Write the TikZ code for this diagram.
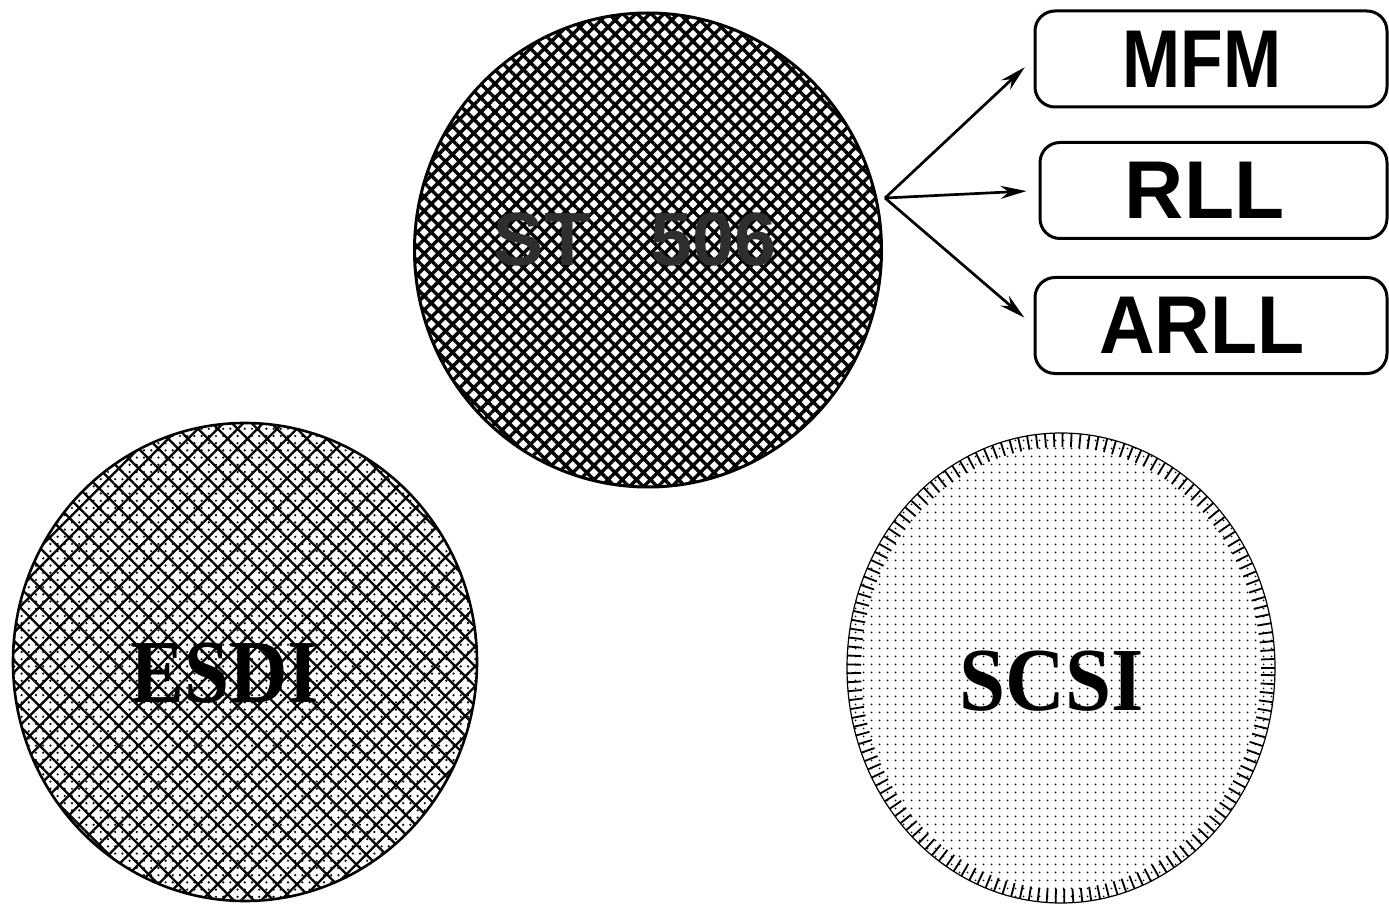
\documentclass[tikz,border=0pt]{standalone}
\usepackage{fontspec}
\usepackage{graphicx}
\setmainfont{Liberation Serif}
\newfontfamily\hv{Liberation Sans}
\usetikzlibrary{shapes.geometric,patterns.meta,arrows.meta,decorations.markings}
\begin{document}
\begin{tikzpicture}[x=0.5pt,y=-0.5pt,
  disk/.style={ellipse, inner sep=0pt},
  stdisk/.style={disk, draw, line width=1.5pt,
    pattern={Hatch[angle=45,distance=5pt,line width=1.7pt]}},
  esdisk/.style={disk, draw, line width=1.3pt,
    pattern={Dots[distance=3.6pt,radius=0.6pt]},
    preaction={pattern={Hatch[angle=45,distance=7pt,line width=1.15pt]}}},
  scdisk/.style={disk, draw, line width=0.6pt,
    pattern={Dots[distance=4pt,radius=0.55pt]},
    postaction={decorate, decoration={markings,
      mark=between positions 0 and 1 step 4.5pt with {\draw[line width=0.9pt] (0pt,0pt) -- (0pt,7pt);}}}},
  sanslab/.style={font=\hv\bfseries\fontsize{37.7}{40}\selectfont, text=black!82, inner sep=0pt},
  seriflab/.style={font=\bfseries\fontsize{45}{48}\selectfont, text=black, inner sep=0pt},
  codebox/.style={draw, line width=1.5pt, rounded corners=10pt, inner sep=0pt,
    minimum height=48pt, font=\hv\bfseries\fontsize{41}{44}\selectfont},
  arr/.style={-{Stealth[length=13pt,width=6.5pt]}, line width=1.35pt, shorten >=6pt}]

\fill[white] (0,0) rectangle (1389,904);
\useasboundingbox (0,0) rectangle (1389,904);

% disks
\node[stdisk, minimum width=233.5pt, minimum height=237pt] (st) at (648,250) {};
\node[esdisk, minimum width=232pt, minimum height=239pt] (esdi) at (245,662) {};
\node[scdisk, minimum width=214pt, minimum height=235pt] (scsi) at (1061,668) {};

% disk labels
\node[sanslab] (stlab) at (635,240) {ST\hspace{30pt}506};
\node[seriflab] (esdilab) at (225,673) {\scalebox{0.9}[1]{ESDI}};
\node[seriflab] (scsilab) at (1052,681) {\scalebox{0.92}[1]{SCSI}};

% encoding boxes
\node[codebox, minimum width=176pt] (mfm) at (1211,59) {\scalebox{0.85}[1]{MFM}\kern9pt};
\node[codebox, minimum width=173.5pt] (rll) at (1213.5,190.5) {RLL\kern9pt};
\node[codebox, minimum width=176pt] (arll) at (1211,325.5) {\scalebox{0.94}[1]{ARLL}\kern9pt};

% arrows
\coordinate (hub) at (885,198);
\draw[arr] (hub) -- (mfm.west);
\draw[arr] (hub) -- (rll.west);
\draw[arr] (hub) -- (arll.west);
\end{tikzpicture}
\end{document}
